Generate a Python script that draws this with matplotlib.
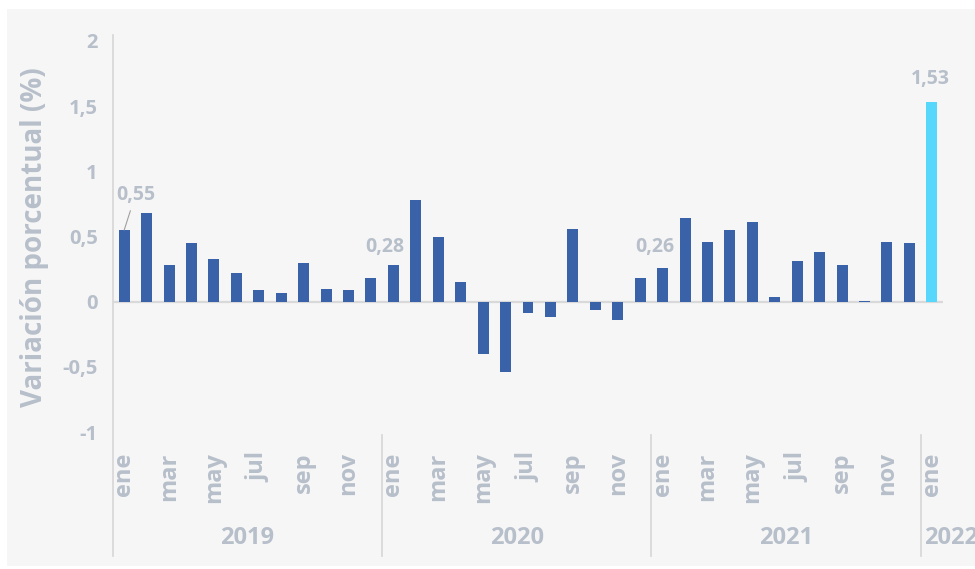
"""Monthly percentage variation, Jan 2019 - Jan 2022."""

import matplotlib

matplotlib.use("Agg")
import matplotlib.pyplot as plt
from matplotlib.patches import Rectangle
from matplotlib.transforms import blended_transform_factory

# --- data ---
months = ["ene", "feb", "mar", "abr", "may", "jun",
          "jul", "ago", "sep", "oct", "nov", "dic"]
years = ["2019", "2020", "2021", "2022"]

values_2019 = [0.55, 0.68, 0.28, 0.45, 0.33, 0.22, 0.09, 0.07, 0.30, 0.10, 0.09, 0.18]
values_2020 = [0.28, 0.78, 0.50, 0.15, -0.40, -0.54, -0.085, -0.115, 0.56, -0.065, -0.14, 0.18]
values_2021 = [0.26, 0.64, 0.46, 0.55, 0.61, 0.035, 0.31, 0.38, 0.28, 0.005, 0.46, 0.45]
values_2022 = [1.53]

labelled = {0: "0,55", 12: "0,28", 24: "0,26", 36: "1,53"}
label_offsets = {0: (8, 25), 12: (-6.5, 13), 24: (-5.5, 15), 36: (-1, 16.5)}

values = values_2019 + values_2020 + values_2021 + values_2022
month_labels = months * 3 + months[:1]

BLUE = "#3A62A8"
CYAN = "#57D7FB"
TEXT = "#B7BFCA"
LINE = "#D9D9D9"
FONT = "Open Sans"

W, H = 975, 569
fig = plt.figure(figsize=(W / 100, H / 100), dpi=100)
fig.patch.set_facecolor("white")
fig.patches.append(
    Rectangle((7 / W, 3 / H), 968 / W, 557 / H, transform=fig.transFigure,
              facecolor="#F6F6F6", edgecolor="none", zorder=-10)
)

ax = fig.add_axes([113 / W, (H - 432) / H, 830 / W, 391 / H])
ax.set_facecolor("none")

x = list(range(len(values)))
colors = [BLUE] * (len(values) - 1) + [CYAN]
ax.bar(x, values, width=0.49, color=colors, zorder=3)

ax.set_xlim(-0.5, len(values) - 0.5)
ax.set_ylim(-1, 2)
ax.axhline(0, color=LINE, lw=1.6, zorder=2)

for s in ax.spines.values():
    s.set_visible(False)

yt = [-1, -0.5, 0, 0.5, 1, 1.5, 2]
ax.set_yticks(yt)
ax.set_yticklabels([f"{v:g}".replace(".", ",") for v in yt],
                   fontsize=14.5, fontweight="bold", color=TEXT, family=FONT)
ax.tick_params(axis="y", length=0, pad=11)
ax.set_xticks([])

trans = blended_transform_factory(ax.transData, ax.transAxes)

# y axis line running down through the category area
ax.plot([-0.5, -0.5], [1.015, -0.317], transform=trans, color=LINE,
        lw=1.3, clip_on=False)
for sep in [11.5, 23.5, 35.5]:
    ax.plot([sep, sep], [-0.008, -0.317], transform=trans, color=LINE,
            lw=1.3, clip_on=False)

# month labels (every other month)
for i, m in enumerate(month_labels):
    if i % 2 == 0:
        ax.text(i, -0.052, m, transform=trans, rotation=90, ha="center",
                va="top", fontsize=17, fontweight="bold", color=TEXT,
                family=FONT)

# year labels
for k, yr in enumerate(years[:3]):
    ax.text(12 * k + 5.5, -0.271, yr, transform=trans, ha="center",
            va="center", fontsize=17, fontweight="bold", color=TEXT,
            family=FONT)
ax.text(35.65, -0.271, years[3], transform=trans, ha="left", va="center",
        fontsize=17, fontweight="bold", color=TEXT, family=FONT,
        clip_on=False)

# value labels
for idx, txt in labelled.items():
    dx, dy = label_offsets[idx]
    props = None
    if idx == 0:
        props = dict(arrowstyle="-", color="#A0A0A0", lw=0.8,
                     shrinkA=2, shrinkB=0)
    ax.annotate(txt, xy=(idx, values[idx]), xytext=(dx, dy),
                textcoords="offset points", ha="center", va="center",
                fontsize=14, fontweight="bold", color=TEXT, family=FONT,
                arrowprops=props)

fig.text(35 / W, 0.583, "Variación porcentual (%)", rotation=90,
         ha="center", va="center", fontsize=20, fontweight="bold",
         color=TEXT, family=FONT)

fig.savefig("out.png", dpi=100)
